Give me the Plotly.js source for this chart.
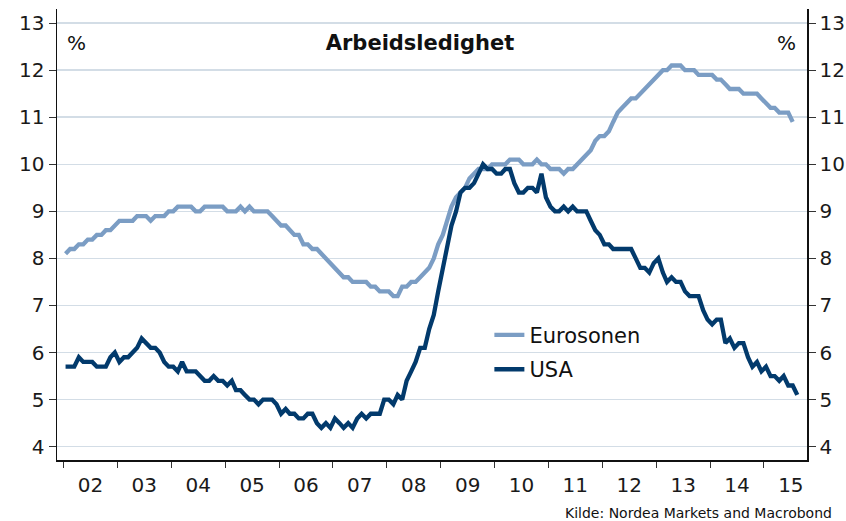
<!DOCTYPE html>
<html>
<head>
<meta charset="utf-8">
<script src="https://cdn.plot.ly/plotly-3.0.1.min.js"></script>
<style>html,body{margin:0;padding:0;background:#fff;}#chart{width:846px;height:521px;}</style>
</head>
<body>
<div id="chart"></div>
<script>
// Monthly unemployment rate (%), starting January 2002
const startYear = 2002;
const euroLabel = "Eurosonen";
const usaLabel = "USA";
const euroValues = [
  8.1, 8.2, 8.2, 8.3, 8.3, 8.4, 8.4, 8.5, 8.5, 8.6, 8.6, 8.7,   // 2002
  8.8, 8.8, 8.8, 8.8, 8.9, 8.9, 8.9, 8.8, 8.9, 8.9, 8.9, 9.0,   // 2003
  9.0, 9.1, 9.1, 9.1, 9.1, 9.0, 9.0, 9.1, 9.1, 9.1, 9.1, 9.1,   // 2004
  9.0, 9.0, 9.0, 9.1, 9.0, 9.1, 9.0, 9.0, 9.0, 9.0, 8.9, 8.8,   // 2005
  8.7, 8.7, 8.6, 8.5, 8.5, 8.3, 8.3, 8.2, 8.2, 8.1, 8.0, 7.9,   // 2006
  7.8, 7.7, 7.6, 7.6, 7.5, 7.5, 7.5, 7.5, 7.4, 7.4, 7.3, 7.3,   // 2007
  7.3, 7.2, 7.2, 7.4, 7.4, 7.5, 7.5, 7.6, 7.7, 7.8, 8.0, 8.3,   // 2008
  8.5, 8.8, 9.1, 9.3, 9.4, 9.5, 9.7, 9.8, 9.9, 9.9, 9.9, 10.0,  // 2009
  10.0, 10.0, 10.0, 10.1, 10.1, 10.1, 10.0, 10.0, 10.0, 10.1, 10.0, 10.0, // 2010
  9.9, 9.9, 9.9, 9.8, 9.9, 9.9, 10.0, 10.1, 10.2, 10.3, 10.5, 10.6, // 2011
  10.6, 10.7, 10.9, 11.1, 11.2, 11.3, 11.4, 11.4, 11.5, 11.6, 11.7, 11.8, // 2012
  11.9, 12.0, 12.0, 12.1, 12.1, 12.1, 12.0, 12.0, 12.0, 11.9, 11.9, 11.9, // 2013
  11.9, 11.8, 11.8, 11.7, 11.6, 11.6, 11.6, 11.5, 11.5, 11.5, 11.5, 11.4, // 2014
  11.3, 11.2, 11.2, 11.1, 11.1, 11.1, 10.9                       // 2015
];
const usaValues = [
  5.7, 5.7, 5.7, 5.9, 5.8, 5.8, 5.8, 5.7, 5.7, 5.7, 5.9, 6.0,   // 2002
  5.8, 5.9, 5.9, 6.0, 6.1, 6.3, 6.2, 6.1, 6.1, 6.0, 5.8, 5.7,   // 2003
  5.7, 5.6, 5.8, 5.6, 5.6, 5.6, 5.5, 5.4, 5.4, 5.5, 5.4, 5.4,   // 2004
  5.3, 5.4, 5.2, 5.2, 5.1, 5.0, 5.0, 4.9, 5.0, 5.0, 5.0, 4.9,   // 2005
  4.7, 4.8, 4.7, 4.7, 4.6, 4.6, 4.7, 4.7, 4.5, 4.4, 4.5, 4.4,   // 2006
  4.6, 4.5, 4.4, 4.5, 4.4, 4.6, 4.7, 4.6, 4.7, 4.7, 4.7, 5.0,   // 2007
  5.0, 4.9, 5.1, 5.0, 5.4, 5.6, 5.8, 6.1, 6.1, 6.5, 6.8, 7.3,   // 2008
  7.8, 8.3, 8.7, 9.0, 9.4, 9.5, 9.5, 9.6, 9.8, 10.0, 9.9, 9.9,  // 2009
  9.8, 9.8, 9.9, 9.9, 9.6, 9.4, 9.4, 9.5, 9.5, 9.4, 9.8, 9.3,   // 2010
  9.1, 9.0, 9.0, 9.1, 9.0, 9.1, 9.0, 9.0, 9.0, 8.8, 8.6, 8.5,   // 2011
  8.3, 8.3, 8.2, 8.2, 8.2, 8.2, 8.2, 8.0, 7.8, 7.8, 7.7, 7.9,   // 2012
  8.0, 7.7, 7.5, 7.6, 7.5, 7.5, 7.3, 7.2, 7.2, 7.2, 6.9, 6.7,   // 2013
  6.6, 6.7, 6.7, 6.2, 6.3, 6.1, 6.2, 6.2, 5.9, 5.7, 5.8, 5.6,   // 2014
  5.7, 5.5, 5.5, 5.4, 5.5, 5.3, 5.3, 5.1                        // 2015
];
const yTicks = [4, 5, 6, 7, 8, 9, 10, 11, 12, 13];
const titleText = "Arbeidsledighet";
const unitText = "%";
const sourceText = "Kilde: Nordea Markets and Macrobond";

function monthDates(n) {
  const out = [];
  for (let i = 0; i < n; i++) {
    const y = startYear + Math.floor(i / 12);
    const m = (i % 12) + 1;
    out.push(y + "-" + String(m).padStart(2, "0") + "-15");
  }
  return out;
}

const FONT = "DejaVu Sans, Verdana, sans-serif";
const traces = [
  {x: monthDates(euroValues.length), y: euroValues, name: euroLabel, legendgroup: "eu", type: "scatter", mode: "lines",
   line: {color: "#7b9dc4", width: 4.3}, hoverinfo: "x+y"},
  {x: monthDates(usaValues.length), y: usaValues, name: usaLabel, legendgroup: "us", type: "scatter", mode: "lines",
   line: {color: "#023a6c", width: 4.3}, hoverinfo: "x+y"}
];

const yRange = [3.717, 13.3];
const TICKFONT = {family: FONT, size: 20, color: "#1a1a1a"};
const layout = {
  width: 846, height: 521,
  margin: {l: 57, r: 39, t: 9, b: 61},
  paper_bgcolor: "#fff", plot_bgcolor: "#fff",
  font: {family: FONT, size: 20, color: "#1a1a1a"},
  showlegend: true,
  legend: {x: 0.5765, y: 0.322, xanchor: "left", yanchor: "top", bgcolor: "rgba(0,0,0,0)",
    font: {family: FONT, size: 21, color: "#111"}, tracegroupgap: 4, itemwidth: 30},
  title: {text: "<b>" + titleText + "</b>", x: 0.4965, xanchor: "center", xref: "container",
    y: 0.919, yanchor: "middle", font: {family: FONT, size: 21, color: "#111"}},
  xaxis: {
    type: "date", range: ["2001-11-18", "2015-10-20"],
    tick0: "2002-01-01", dtick: "M12", tickformat: "%y", ticklabelmode: "period",
    ticks: "outside", ticklen: 6, tickcolor: "#333", tickwidth: 1,
    showgrid: false, zeroline: false, showline: true, linecolor: "#111", linewidth: 1.5,
    tickfont: TICKFONT, fixedrange: true
  },
  yaxis: {
    range: yRange, tickvals: yTicks, ticktext: yTicks.map(String),
    ticks: "outside", ticklen: 7, tickcolor: "#333", tickwidth: 1,
    showgrid: true, gridcolor: "#d3dde6", gridwidth: 1.5, zeroline: false,
    showline: true, linecolor: "#111", linewidth: 1.5,
    tickfont: TICKFONT, fixedrange: true
  },
  yaxis2: {
    overlaying: "y", side: "right", matches: "y", range: yRange, tickvals: yTicks, ticktext: yTicks.map(String),
    ticks: "outside", ticklen: 7, tickcolor: "#333", tickwidth: 1,
    showgrid: false, zeroline: false, showline: true, linecolor: "#111", linewidth: 1.5,
    tickfont: TICKFONT, fixedrange: true
  },
  annotations: [
    {text: unitText, xref: "paper", yref: "paper", x: 0.011, y: 0.925, xanchor: "left", yanchor: "middle",
     showarrow: false, font: {family: FONT, size: 20, color: "#111"}},
    {text: unitText, xref: "paper", yref: "paper", x: 0.988, y: 0.925, xanchor: "right", yanchor: "middle",
     showarrow: false, font: {family: FONT, size: 20, color: "#111"}},
    {text: sourceText, xref: "paper", yref: "paper", x: 1.036, y: -0.118, xanchor: "right", yanchor: "middle",
     showarrow: false, font: {family: FONT, size: 14, color: "#111"}}
  ]
};
// invisible carrier so the right-hand axis is drawn
traces.push({x: [], y: [], yaxis: "y2", showlegend: false, hoverinfo: "skip", type: "scatter", mode: "lines"});

Plotly.newPlot("chart", traces, layout, {displayModeBar: false, staticPlot: true});
</script>
</body>
</html>
